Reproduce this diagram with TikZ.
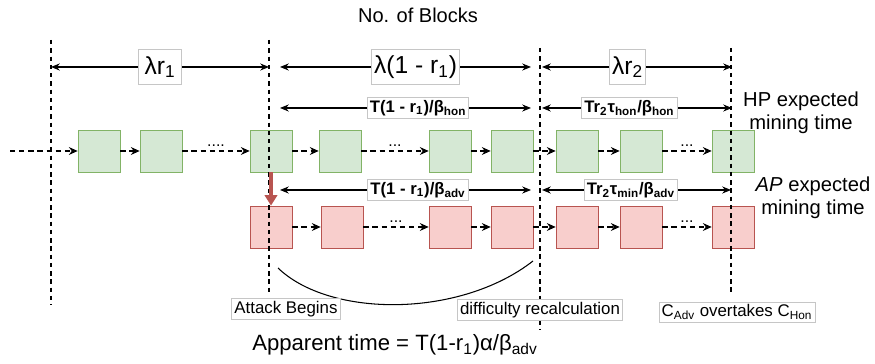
\documentclass[tikz,border=0pt]{standalone}
\usepackage{fontspec}
\setmainfont{Liberation Sans}
\usetikzlibrary{arrows.meta}
\definecolor{honfill}{HTML}{D5E8D4}
\definecolor{honline}{HTML}{82B366}
\definecolor{advfill}{HTML}{F8CECC}
\definecolor{advline}{HTML}{B85450}
\newcommand{\low}[1]{\textsubscript{#1}}
\tikzset{
	hon/.style={draw=honline, fill=honfill, minimum size=0.84cm, inner sep=0pt},
	adv/.style={draw=advline, fill=advfill, minimum size=0.84cm, inner sep=0pt},
	flow/.style={dashed, dash pattern=on 3pt off 2.2pt, line width=0.6pt,
		-{Stealth[length=5pt,width=4.5pt]}},
	span/.style={line width=0.6pt,
		{Stealth[length=5pt,width=4pt]}-{Stealth[length=5pt,width=4pt]}},
	divider/.style={dashed, dash pattern=on 2.5pt off 2.2pt, line width=0.6pt},
	bigbox/.style={draw=gray!45, fill=white, inner sep=1.5pt, minimum height=20pt,
		font=\fontsize{14}{16}\selectfont},
	timebox/.style={draw=gray!45, fill=white, inner sep=1.5pt,
		font=\fontsize{9.5}{11}\selectfont\bfseries},
	note/.style={draw=gray!45, fill=white, inner sep=1.5pt,
		font=\fontsize{9.6}{11}\selectfont},
	dots/.style={above, inner sep=2pt, font=\small},
	side/.style={align=center, font=\fontsize{11.5}{13}\selectfont},
	attack/.style={draw=advline, line width=2pt,
		-{Triangle[length=6pt,width=7pt]}},
}
\begin{document}
\begin{tikzpicture}[x=0.02cm, y=-0.02cm]
	\useasboundingbox (0,0) rectangle (875,364);
	\node (title) at (418,15) 
		{\fontsize{11.4}{13}\selectfont No. of Blocks};
	\node [ hon ] (h1) at (99,151) {};
	\node [ hon ] (h2) at (161,151) {};
	\node [ hon ] (h3) at (271,151) {};
	\node [ hon ] (h4) at (340,151) {};
	\node [ hon ] (h5) at (450,151) {};
	\node [ hon ] (h6) at (512,151) {};
	\node [ hon ] (h7) at (577,151) {};
	\node [ hon ] (h8) at (641,151) {};
	\node [ hon ] (h9) at (733,151) {};
	\node [ adv ] (d1) at (271,227) {};
	\node [ adv ] (d2) at (342,227) {};
	\node [ adv ] (d3) at (450,227) {};
	\node [ adv ] (d4) at (512,227) {};
	\node [ adv ] (d5) at (577,227) {};
	\node [ adv ] (d6) at (641,227) {};
	\node [ adv ] (d7) at (733,227) {};
	\coordinate (in) at (10,151);
	\draw [ flow ] (in) -- (h1);
	\draw [ flow ] (h1) -- (h2);
	\draw [ flow ] (h2) -- node [ dots ] {....} (h3);
	\draw [ flow ] (h3) -- (h4);
	\draw [ flow ] (h4) -- node [ dots ] {...} (h5);
	\draw [ flow ] (h5) -- (h6);
	\draw [ flow ] (h6) -- (h7);
	\draw [ flow ] (h7) -- (h8);
	\draw [ flow ] (h8) -- node [ dots ] {...} (h9);
	\draw [ flow ] (d1) -- (d2);
	\draw [ flow ] (d2) -- node [ dots ] {...} (d3);
	\draw [ flow ] (d3) -- (d4);
	\draw [ flow ] (d4) -- (d5);
	\draw [ flow ] (d5) -- (d6);
	\draw [ flow ] (d6) -- node [ dots ] {...} (d7);
	\draw [ divider ] (51,40) -- (51,305);
	\draw [ divider ] (269,40) -- (269,294);
	\draw [ divider ] (540,48) -- (540,330);
	\draw [ divider ] (731,48) -- (731,293);
	\coordinate (a1) at (51,67);
	\coordinate (a2) at (269,67);
	\coordinate (a3) at (280,67);
	\coordinate (a4) at (531,67);
	\coordinate (a5) at (542,67);
	\coordinate (a6) at (732,67);
	\coordinate (b1) at (280,108);
	\coordinate (b2) at (531,108);
	\coordinate (b3) at (542,108);
	\coordinate (b4) at (732,108);
	\coordinate (c1) at (280,190);
	\coordinate (c2) at (531,190);
	\coordinate (c3) at (542,190);
	\coordinate (c4) at (731,190);
	\draw [ span ] (a1) to 
		node [ bigbox, minimum width=25pt ] {λr\low{1}} 
		(a2);
	\draw [ span ] (a3) to 
		node [ bigbox, pos=.54 ] {λ(1 - r\low{1})} 
		(a4);
	\draw [ span ] (a5) to 
		node [ bigbox, pos=.45 ] {λr\low{2}} 
		(a6);
	\draw [ span ] (b1) to 
		node [ timebox, pos=.55 ] {T(1 - r\low{1})/β\low{hon}} 
		(b2);
	\draw [ span ] (b3) to 
		node [ timebox, pos=.46 ] {Tr\low{2}τ\low{hon}/β\low{hon}} 
		(b4);
	\draw [ span ] (c1) to 
		node [ timebox, pos=.55 ] {T(1 - r\low{1})/β\low{adv}} 
		(c2);
	\draw [ span ] (c3) to 
		node [ timebox, pos=.47 ] {Tr\low{2}τ\low{min}/β\low{adv}} 
		(c4);
	\draw [ attack ] (h3) -- (d1);
	\node [ side ] (hp) at (801,113) {HP expected\\mining time};
	\node [ side ] (ap) at (813,198) {\textit{AP} expected\\mining time};
	\coordinate (e1) at (278,268);
	\coordinate (e2) at (533,261);
	\draw [ line width=0.6pt ] (e1) .. controls (330,318) and (460,318) .. (e2);
	\node [ note ] (begin) at (286,309) {Attack Begins};
	\node [ note ] (recalc) at (540,310) {difficulty recalculation};
	\node [ note ] (over) at (737,312) {C\low{Adv} overtakes C\low{Hon}};
	\node (app) at (395,345) 
		{\fontsize{12.6}{15}\selectfont Apparent time = T(1-r\low{1})α/β\low{adv}};
\end{tikzpicture}
\end{document}
